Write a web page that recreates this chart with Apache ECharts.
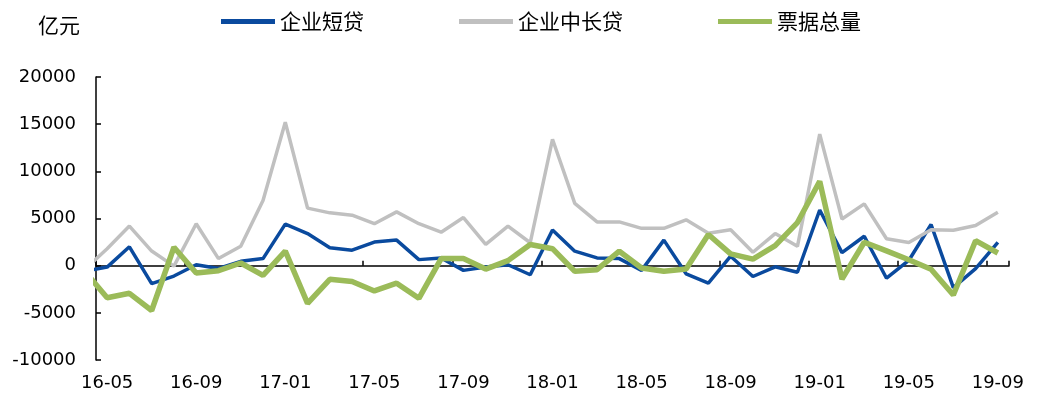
<!DOCTYPE html>
<html>
<head>
<meta charset="utf-8">
<script src="https://cdn.jsdelivr.net/npm/echarts@6/dist/echarts.min.js"></script>
<style>
	html, body {margin: 0; padding: 0; background: #fff;}
	#lineMapId {width: 1041px; height: 401px;}
</style>
</head>
<body>
<div id="lineMapId"></div>
<script>
// 月份（16-04 只露出一小段，在坐标轴左边被裁掉）
var months = ['16-04','16-05','16-06','16-07','16-08','16-09','16-10','16-11','16-12',
	'17-01','17-02','17-03','17-04','17-05','17-06','17-07','17-08','17-09','17-10','17-11','17-12',
	'18-01','18-02','18-03','18-04','18-05','18-06','18-07','18-08','18-09','18-10','18-11','18-12',
	'19-01','19-02','19-03','19-04','19-05','19-06','19-07','19-08','19-09'];

// 企业短贷
var shortLoan = [-600, -150, 2000, -1900, -1100, 100, -300, 460, 750,
	4400, 3400, 1900, 1640, 2500, 2710, 640, 820, -500, -140, 100, -960,
	3780, 1535, 820, 750, -500, 2710, -860, -1840, 1000, -1150, -120, -700,
	5900, 1380, 3120, -1330, 550, 4360, -2330, -320, 2480];

// 企业中长贷
var longLoan = [-400, 1800, 4200, 1550, -50, 4450, 750, 2050, 6900,
	15200, 6100, 5600, 5350, 4450, 5700, 4450, 3550, 5100, 2250, 4200, 2430,
	13400, 6600, 4640, 4640, 3960, 3960, 4860, 3440, 3800, 1420, 3400, 2050,
	13950, 4950, 6550, 2850, 2460, 3800, 3750, 4250, 5650];

// 票据总量
var billTotal = [-600, -3400, -2930, -4750, 1950, -785, -535, 285, -1035,
	1550, -4000, -1450, -1680, -2680, -1860, -3460, 750, 750, -360, 535, 2250,
	1800, -600, -430, 1535, -250, -600, -360, 3300, 1250, 700, 2130, 4570,
	8950, -1420, 2480, 1570, 620, -380, -3110, 2650, 1340];

var yTicks = {min: -10000, max: 20000, step: 5000};

var report = {
	init: function(){
		var myChart = echarts.init(document.getElementById('lineMapId'));
		myChart.setOption(report.getOption());
	},
	toPoints: function(arr){
		return arr.map(function(v, i){
			return [i, v];
		});
	},
	getOption: function(){
		var font = 'DejaVu Sans';
		var cjk = 'Noto Sans CJK SC';
		var shown = months.slice(1);

		var option = {
			animation: false,
			title: {
				text: '亿元',
				left: 33,
				top: 10,
				textStyle: {fontFamily: cjk, fontSize: 21, fontWeight: 'normal', color: '#000'}
			},
			legend: {
				left: 216,
				top: 6,
				icon: 'rect',
				itemWidth: 54,
				itemHeight: 5,
				itemGap: 95,
				textStyle: {fontFamily: cjk, fontSize: 21, color: '#000'},
				data: ['企业短贷', '企业中长贷', '票据总量']
			},
			grid: {left: 96, right: 32, top: 77, bottom: 41},
			xAxis: [
				{
					// 底部的月份标签
					type: 'category',
					data: shown,
					position: 'bottom',
					boundaryGap: true,
					axisLine: {show: false, onZero: false},
					axisTick: {show: false},
					axisLabel: {interval: 3, margin: 14, fontFamily: font, fontSize: 18, color: '#000'},
					splitLine: {show: false}
				},
				{
					// 零轴线和刻度
					type: 'category',
					data: shown,
					position: 'bottom',
					boundaryGap: true,
					axisLine: {show: true, onZero: true, lineStyle: {color: '#000', width: 1.5}},
					axisTick: {show: true, inside: true, interval: 3, length: 5, lineStyle: {color: '#000', width: 1.5}},
					axisLabel: {show: false},
					splitLine: {show: false}
				},
				{
					type: 'value',
					show: false,
					min: 0.5,
					max: months.length - 0.5
				}
			],
			yAxis: {
				type: 'value',
				min: yTicks.min,
				max: yTicks.max,
				interval: yTicks.step,
				axisLine: {show: true, lineStyle: {color: '#000', width: 1.5}},
				axisTick: {show: true, inside: true, length: 5, lineStyle: {color: '#000', width: 1.5}},
				axisLabel: {
					margin: 20, fontFamily: font, fontSize: 18, color: '#000',
					formatter: function(v){ return String(v); }
				},
				splitLine: {show: false}
			},
			series: [
				{
					name: '企业短贷',
					type: 'line',
					xAxisIndex: 2,
					symbol: 'none',
					clip: true,
					itemStyle: {color: '#0A4A9E'},
					lineStyle: {color: '#0A4A9E', width: 3.5},
					data: report.toPoints(shortLoan)
				},
				{
					name: '企业中长贷',
					type: 'line',
					xAxisIndex: 2,
					symbol: 'none',
					clip: true,
					itemStyle: {color: '#C0C0C0'},
					lineStyle: {color: '#C0C0C0', width: 3.5},
					data: report.toPoints(longLoan)
				},
				{
					name: '票据总量',
					type: 'line',
					xAxisIndex: 2,
					symbol: 'none',
					clip: true,
					itemStyle: {color: '#9BBB59'},
					lineStyle: {color: '#9BBB59', width: 5.5},
					data: report.toPoints(billTotal)
				}
			]
		};

		return option;
	}
};

report.init();
</script>
</body>
</html>
